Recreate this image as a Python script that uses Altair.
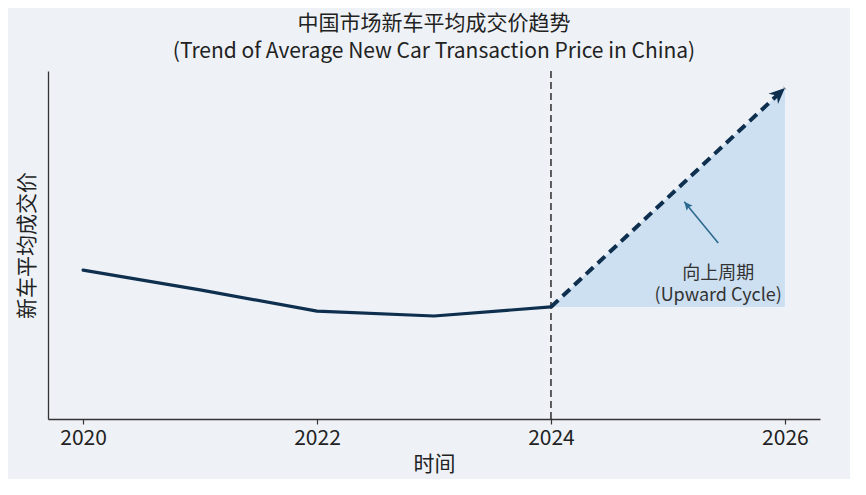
import math
import altair as alt
import pandas as pd

# ---- data ----
hist_years = [2020, 2021, 2022, 2023, 2024]
hist_values = [42.8, 37.1, 31.0, 29.6, 32.2]
fc_years = [2024, 2026]
fc_values = [32.2, 95.1]
tick_years = [2020, 2022, 2024, 2026]
divider_year = [2024]
ann_lines = ["向上周期", "(Upward Cycle)"]
ann_text_x = [2025.43]
ann_text_y = [41.6]
ann_arrow_x = [2025.43, 2025.14]   # tail, head
ann_arrow_y = [50.6, 62.4]

X_DOMAIN = [2019.7, 2026.3]
Y_DOMAIN = [0, 100]
W, H = 772, 348
FONT = "Noto Sans CJK SC"
NAVY = "#0f2f4f"

hist = pd.DataFrame({"year": hist_years, "value": hist_values})
fc = pd.DataFrame({"year": fc_years, "value": fc_values,
                   "base": [fc_values[0]] * len(fc_years)})
fc_end = fc.tail(1)
divider = pd.DataFrame({"year": divider_year})
ann_txt = pd.DataFrame({"year": ann_text_x, "value": ann_text_y})
ann_arrow = pd.DataFrame({"year": [ann_arrow_x[0]], "value": [ann_arrow_y[0]],
                          "year2": [ann_arrow_x[1]], "value2": [ann_arrow_y[1]]})
ann_head = pd.DataFrame({"year": [ann_arrow_x[1]], "value": [ann_arrow_y[1]]})

# rotation of arrow heads from the data direction in pixel space
px_x = W / (X_DOMAIN[1] - X_DOMAIN[0])
px_y = H / (Y_DOMAIN[1] - Y_DOMAIN[0])
main_angle = math.degrees(math.atan2((fc_years[1] - fc_years[0]) * px_x,
                                     (fc_values[1] - fc_values[0]) * px_y)) % 360
ann_angle = math.degrees(math.atan2((ann_arrow_x[1] - ann_arrow_x[0]) * px_x,
                                    (ann_arrow_y[1] - ann_arrow_y[0]) * px_y)) % 360

xscale = alt.Scale(domain=X_DOMAIN, nice=False, zero=False)
yscale = alt.Scale(domain=Y_DOMAIN, nice=False, zero=False)
xaxis = alt.Axis(values=tick_years, format="d", title="时间", grid=False,
                 tickSize=5, labelPadding=3, titlePadding=5)
yaxis = alt.Axis(labels=False, ticks=False, grid=False, title="新车平均成交价",
                 titlePadding=11)


def X(field="year"):
    return alt.X(f"{field}:Q", scale=xscale, axis=xaxis)


def Y(field="value"):
    return alt.Y(f"{field}:Q", scale=yscale, axis=yaxis)


area = alt.Chart(fc).mark_area(color="#cde0f2", opacity=1).encode(
    x=X(), y=Y(), y2="base:Q")

vline = alt.Chart(divider).mark_rule(color="#2b2b2b", strokeWidth=1.5,
                                     strokeDash=[7, 4]).encode(x=X())

solid = alt.Chart(hist).mark_line(color=NAVY, strokeWidth=3.2,
                                  strokeCap="round", strokeJoin="round").encode(x=X(), y=Y())

dashed = alt.Chart(fc).mark_line(color=NAVY, strokeWidth=4,
                                 strokeDash=[10, 6]).encode(x=X(), y=Y())

head = alt.Chart(fc_end).mark_point(
    shape="M0,0L-0.7,1.6L0,1.1L0.7,1.6Z", size=400, filled=True,
    color=NAVY, opacity=1, angle=main_angle, strokeWidth=0).encode(x=X(), y=Y())

ann_rule = alt.Chart(ann_arrow).mark_rule(color="#2e6a90", strokeWidth=1.6).encode(
    x=X(), y=Y(), x2="year2:Q", y2="value2:Q")

ann_tip = alt.Chart(ann_head).mark_point(
    shape="M0,0L-0.75,1.6L0,1.3L0.75,1.6Z", size=110, filled=True,
    color="#2e6a90", opacity=1, angle=ann_angle, strokeWidth=0).encode(x=X(), y=Y())

ann_label = alt.Chart(ann_txt).mark_text(
    text=ann_lines, lineHeight=22,
    font=FONT, fontSize=18, color="#333333", align="center", baseline="middle"
).encode(x=X(), y=Y())

chart = alt.layer(area, vline, solid, dashed, head, ann_rule, ann_tip, ann_label).properties(
    width=W, height=H,
    title=alt.TitleParams(
        text=["中国市场新车平均成交价趋势",
              "(Trend of Average New Car Transaction Price in China)"],
        font=FONT, fontSize=21, fontWeight="normal", color="#222222",
        lineHeight=28, offset=8, anchor="middle"),
    autosize=alt.AutoSizeParams(type="none"),
    padding={"left": 40, "top": 63, "right": 30, "bottom": 60},
).configure(background="#eef2f7", font=FONT).configure_view(
    stroke=None
).configure_axis(
    domainColor="#333333", domainWidth=1.3, tickColor="#333333", tickWidth=1.2,
    labelFont=FONT, labelFontSize=21, labelColor="#222222",
    titleFont=FONT, titleFontSize=21, titleColor="#222222", titleFontWeight="normal"
)

chart.save("out.html", embed_options={"renderer": "svg", "actions": False})
